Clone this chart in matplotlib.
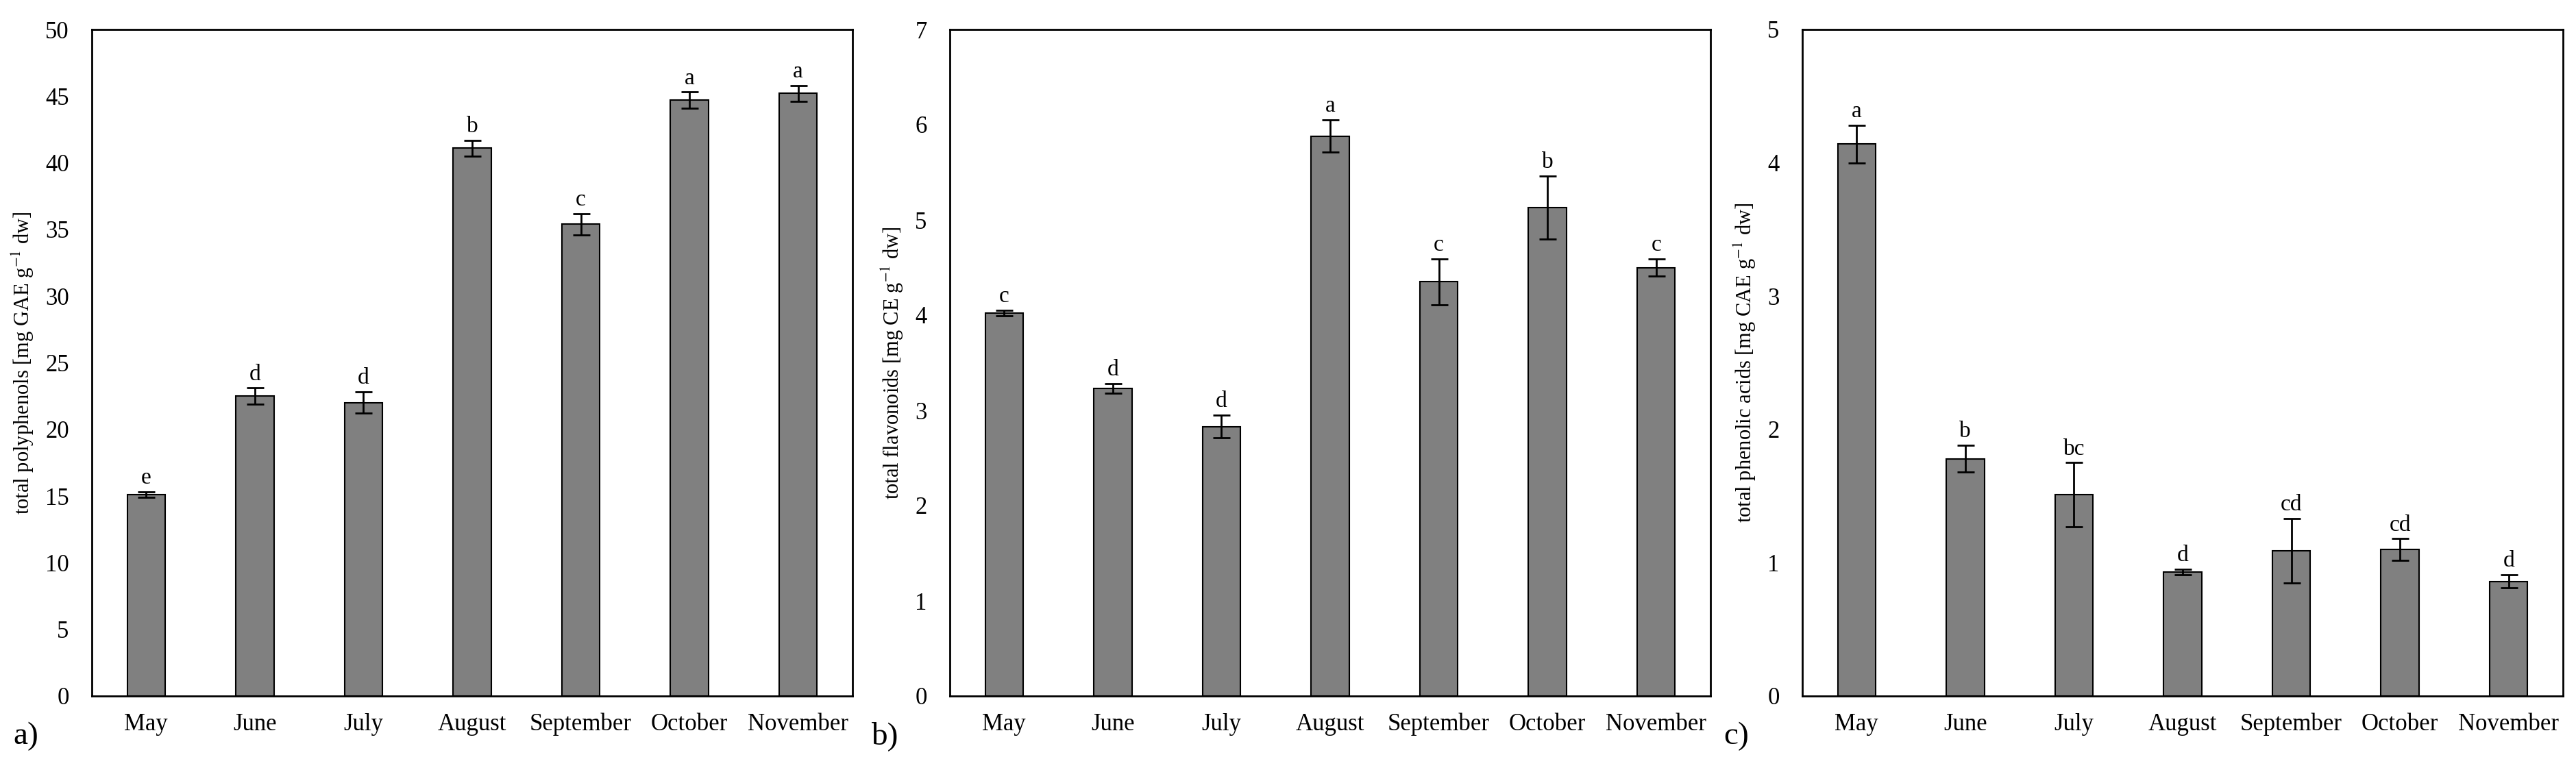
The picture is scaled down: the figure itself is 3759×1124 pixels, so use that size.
import matplotlib
matplotlib.use("Agg")
import matplotlib.pyplot as plt

plt.rcParams["font.family"] = ["Liberation Serif", "DejaVu Serif"]
plt.rcParams["mathtext.fontset"] = "stix"

months = ["May", "June", "July", "August", "September", "October", "November"]

# a) total polyphenols
poly = [15.1, 22.5, 22.0, 41.1, 35.4, 44.7, 45.2]
poly_err = [0.2, 0.6, 0.8, 0.6, 0.8, 0.6, 0.6]
poly_letters = ["e", "d", "d", "b", "c", "a", "a"]

# b) total flavonoids
flav = [4.02, 3.23, 2.83, 5.88, 4.35, 5.13, 4.50]
flav_err = [0.03, 0.05, 0.12, 0.17, 0.24, 0.33, 0.09]
flav_letters = ["c", "d", "d", "a", "c", "b", "c"]

# c) total phenolic acids
acid = [4.14, 1.78, 1.51, 0.93, 1.09, 1.10, 0.86]
acid_err = [0.14, 0.10, 0.24, 0.02, 0.24, 0.08, 0.05]
acid_letters = ["a", "b", "bc", "d", "cd", "cd", "d"]

panels = [
    (poly, poly_err, poly_letters, 50, 5, "total polyphenols [mg GAE g$^{-1}$ dw]", "a)"),
    (flav, flav_err, flav_letters, 7, 1, "total flavonoids [mg CE g$^{-1}$ dw]", "b)"),
    (acid, acid_err, acid_letters, 5, 1, "total phenolic acids [mg CAE g$^{-1}$ dw]", "c)"),
]

W, H = 3759, 1124
fig = plt.figure(figsize=(W / 100, H / 100), dpi=100)

lefts = [134, 1386, 2630]
width_px = 1110
top, bottom = 43, 1016

for i, (vals, errs, letters, ymax, step, ylabel, tag) in enumerate(panels):
    ax = fig.add_axes([lefts[i] / W, 1 - bottom / H, width_px / W, (bottom - top) / H])
    x = list(range(len(months)))
    ax.bar(x, vals, width=0.35, color="#808080", edgecolor="black", linewidth=1.5,
           yerr=errs, capsize=9, error_kw={"elinewidth": 2, "capthick": 2, "ecolor": "black"})
    for xi, v, e, lab in zip(x, vals, errs, letters):
        ax.text(xi, v + e + ymax * 0.005, lab, ha="center", va="bottom", fontsize=24)
    ax.set_xlim(-0.5, len(months) - 0.5)
    ax.set_ylim(0, ymax)
    ax.set_yticks([k * step for k in range(int(round(ymax / step)) + 1)])
    ax.set_xticks(x)
    ax.set_xticklabels(months)
    ax.tick_params(axis="both", length=0, labelsize=25, pad=18)
    ax.tick_params(axis="y", pad=24)
    ax.set_ylabel(ylabel, fontsize=22, labelpad=10)
    for s in ax.spines.values():
        s.set_linewidth(2)
    fig.text((lefts[i] - 115) / W, 1 - 1075 / H, tag, fontsize=34, ha="left", va="center")

fig.savefig("out.png", dpi=100)
